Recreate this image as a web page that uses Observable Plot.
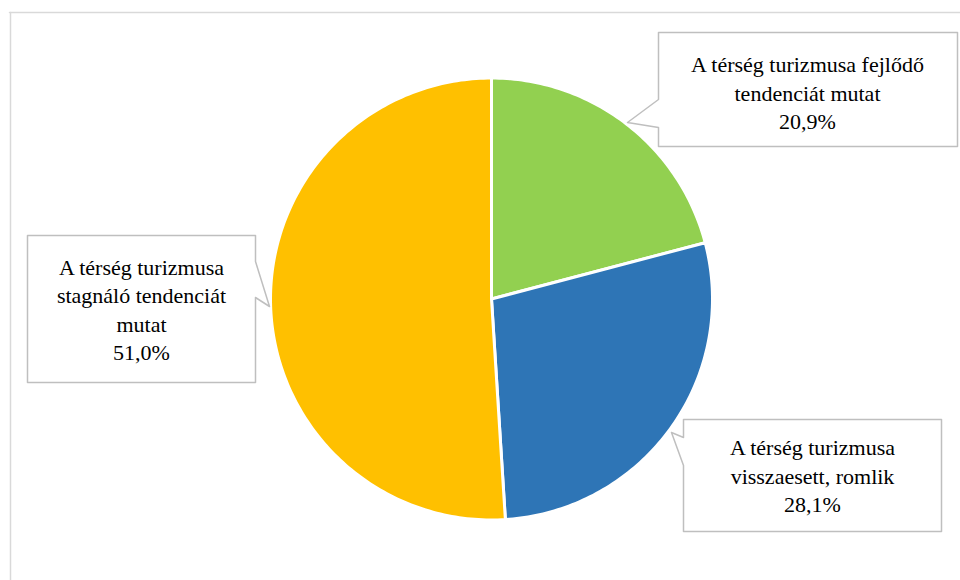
<!DOCTYPE html>
<html>
<head>
<meta charset="utf-8">
<script src="https://cdn.jsdelivr.net/npm/d3@7"></script>
<script src="https://cdn.jsdelivr.net/npm/@observablehq/plot@0.6"></script>
<style>
  html, body { margin: 0; padding: 0; background: #fff; }
  #chart svg { display: block; }
</style>
</head>
<body>
<div id="chart"></div>
<script>
// ---- data ----
const categories = [
  "A térség turizmusa fejlődő tendenciát mutat",
  "A térség turizmusa visszaesett, romlik",
  "A térség turizmusa stagnáló tendenciát mutat"
];
// label line breaks as printed in the chart
const labelLines = [
  ["A térség turizmusa fejlődő", "tendenciát mutat"],
  ["A térség turizmusa", "visszaesett, romlik"],
  ["A térség turizmusa", "stagnáló tendenciát", "mutat"]
];
const values = [20.9, 28.1, 51.0];
const colors = ["#92d050", "#2e75b6", "#ffc000"];

// ---- layout (pixel space) ----
const W = 960, H = 580;
const pie = {cx: 491, cy: 298.5, r: 221};
const lineStep = 28.5;
const FONT = "Liberation Serif";
const callouts = [
  {box: [658, 32, 957, 146], side: "left",  b1: 99,  b2: 127, tip: [627, 122], text: [807, 93]},
  {box: [683, 419, 941, 531], side: "left", b1: 437, b2: 465, tip: [671, 432], text: [812, 476]},
  {box: [27, 235, 255, 382], side: "right", b1: 261, b2: 297, tip: [269, 306], text: [141, 310]}
];

const total = d3.sum(values);
const slices = [];
let a0 = 0;
categories.forEach((c, i) => {
  const a1 = a0 + values[i] / total * 2 * Math.PI;
  const n = Math.max(2, Math.ceil((a1 - a0) / (2 * Math.PI) * 360));
  slices.push({cat: c, x: pie.cx, y: pie.cy});
  for (let k = 0; k <= n; k++) {
    const a = a0 + (a1 - a0) * k / n;
    slices.push({cat: c, x: pie.cx + pie.r * Math.sin(a), y: pie.cy - pie.r * Math.cos(a)});
  }
  slices.push({cat: c, x: pie.cx, y: pie.cy});
  a0 = a1;
});

const calloutPts = [];
callouts.forEach((co, i) => {
  const [x0, y0, x1, y1] = co.box;
  let pts;
  if (co.side === "left") {
    pts = [[x0, y0], [x1, y0], [x1, y1], [x0, y1], [x0, co.b2], co.tip, [x0, co.b1], [x0, y0]];
  } else {
    pts = [[x0, y0], [x1, y0], [x1, co.b1], co.tip, [x1, co.b2], [x1, y1], [x0, y1], [x0, y0]];
  }
  pts.forEach(([x, y]) => calloutPts.push({id: i, x, y}));
});

// one text row per printed line
const labelRows = [];
categories.forEach((c, i) => {
  const lines = [...labelLines[i], values[i].toFixed(1).replace(".", ",") + "%"];
  const [tx, ty] = callouts[i].text;
  lines.forEach((s, k) => {
    labelRows.push({x: tx, y: ty + (k - (lines.length - 1) / 2) * lineStep, text: s});
  });
});

const frame = [
  {id: 0, x: 9, y: 12}, {id: 0, x: W, y: 12},
  {id: 1, x: 10, y: 12}, {id: 1, x: 10, y: H}
];

function render() {
  return Plot.plot({
    width: W,
    height: H,
    margin: 0,
    x: {domain: [0, W], range: [0, W], axis: null},
    y: {domain: [0, H], range: [0, H], axis: null},
    color: {domain: categories, range: colors},
    style: {background: "#fff", fontFamily: FONT},
    marks: [
      Plot.line(frame, {x: "x", y: "y", z: "id", stroke: "#d9d9d9", strokeWidth: 1.5}),
      Plot.line(slices, {x: "x", y: "y", z: "cat", fill: "cat", stroke: "#fff", strokeWidth: 3, strokeLinejoin: "round"}),
      Plot.line(calloutPts, {x: "x", y: "y", z: "id", fill: "#fff", stroke: "#bfbfbf", strokeWidth: 1.5}),
      Plot.text(labelRows, {
        x: "x", y: "y", text: "text",
        fontSize: 22, fontFamily: FONT,
        textAnchor: "middle", fill: "#000"
      })
    ]
  });
}

const host = document.getElementById("chart");
host.appendChild(render());
// once the serif face is loaded, redraw so SVG text picks it up
function redraw() {
  host.replaceChildren(render());
}
if (document.fonts && document.fonts.load) {
  document.fonts.load("22px '" + FONT + "'", "A térség 20,9%").then(redraw).catch(() => {});
  document.fonts.ready.then(redraw).catch(() => {});
}
</script>
</body>
</html>
